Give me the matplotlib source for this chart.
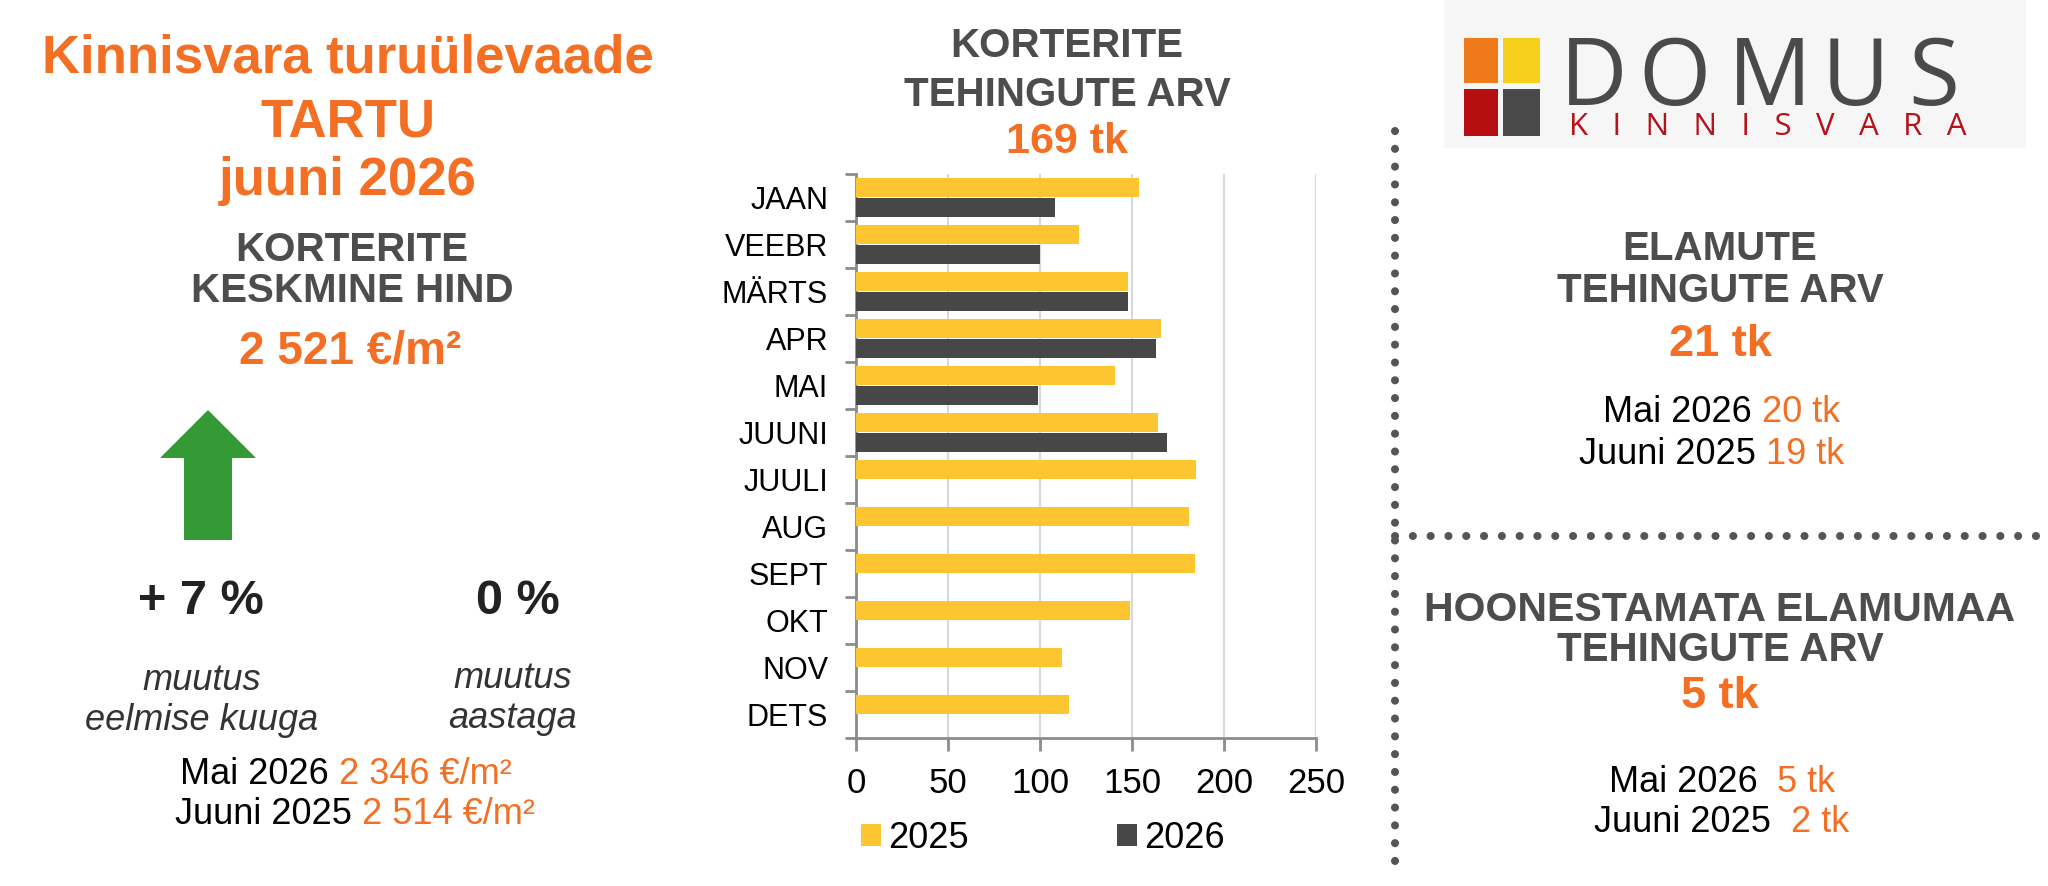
import matplotlib
matplotlib.use("Agg")
import matplotlib.pyplot as plt
from matplotlib.patches import FancyArrow, Rectangle
import numpy as np

plt.rcParams['font.family'] = ['Liberation Sans', 'DejaVu Sans']

# data
months = ['JAAN', 'VEEBR', 'MÄRTS', 'APR', 'MAI', 'JUUNI',
          'JUULI', 'AUG', 'SEPT', 'OKT', 'NOV', 'DETS']
deals_2025 = [154, 121, 148, 166, 141, 164, 185, 181, 184, 149, 112, 116]
deals_2026 = [108, 100, 148, 163, 99, 169]
years = ['2025', '2026']
x_ticks = [0, 50, 100, 150, 200, 250]

ORANGE = '#F26F23'
GRAY = '#4D4D4D'
YELLOW = '#FDC530'
DARK = '#474747'

W, H = 2048, 886
fig = plt.figure(figsize=(W / 100, H / 100), dpi=100)
bg = fig.add_axes([0, 0, 1, 1])
bg.set_xlim(0, W)
bg.set_ylim(H, 0)
bg.axis('off')


def txt(x, y, s, size, color='black', weight='normal', style='normal'):
    bg.text(x, y, s, fontsize=size, color=color, fontweight=weight,
            fontstyle=style, ha='center', va='center')


def mixed_line(x, y, parts, size):
    # several coloured pieces on one line, centred on x
    r = fig.canvas.get_renderer()
    gap = size * 100 / 72 * 0.278
    items = []
    for s, c in parts:
        t = bg.text(0, y, s, fontsize=size, color=c, ha='left', va='center')
        items.append((t, t.get_window_extent(r).width))
    total = sum(w for _, w in items) + gap * (len(items) - 1)
    left = x - total / 2
    for t, w in items:
        t.set_x(left)
        left += w + gap


# left panel
txt(348, 58, 'Kinnisvara turuülevaade', 38, ORANGE, 'bold')
txt(348, 122, 'TARTU', 38, ORANGE, 'bold')
txt(348, 181, 'juuni 2026', 38, ORANGE, 'bold')
txt(352, 250, 'KORTERITE', 29, GRAY, 'bold')
txt(352, 291, 'KESKMINE HIND', 29, GRAY, 'bold')
txt(350, 352, '2 521 €/m²', 33, ORANGE, 'bold')

bg.add_patch(FancyArrow(208, 540, 0, -130, width=48, head_width=96,
                        head_length=48, length_includes_head=True,
                        color='#339A35', lw=0))

txt(201, 602, '+ 7 %', 35, '#222222', 'bold')
txt(518, 602, '0 %', 35, '#222222', 'bold')
txt(202, 681, 'muutus', 26, '#333333', style='italic')
txt(202, 721, 'eelmise kuuga', 26, '#333333', style='italic')
txt(513, 678, 'muutus', 26, '#333333', style='italic')
txt(513, 718, 'aastaga', 26, '#333333', style='italic')
mixed_line(346, 775, [('Mai 2026', 'black'), ('2 346 €/m²', ORANGE)], 26)
mixed_line(355, 815, [('Juuni 2025', 'black'), ('2 514 €/m²', ORANGE)], 26)

# centre chart
txt(1067, 46, 'KORTERITE', 29, GRAY, 'bold')
txt(1067, 95, 'TEHINGUTE ARV', 29, GRAY, 'bold')
txt(1067, 142, '169 tk', 31, ORANGE, 'bold')

ax = fig.add_axes([856 / W, (H - 738) / H, 460 / W, 564 / H])
y = np.arange(len(months))
h = 0.41
b1 = ax.barh(y - 0.207, deals_2025, height=h, color=YELLOW, label=years[0], zorder=3)
b2 = ax.barh(y[:len(deals_2026)] + 0.207, deals_2026, height=h, color=DARK,
             label=years[1], zorder=3)
ax.set_xlim(0, 250)
ax.set_ylim(len(months) - 0.5, -0.5)
ax.set_xticks(x_ticks)
ax.set_xticklabels([str(v) for v in x_ticks], fontsize=25)
ax.set_yticks(np.arange(-0.5, len(months), 1))
ax.set_yticklabels([])
ax.set_yticks(y, minor=True)
ax.set_yticklabels(months, minor=True, fontsize=22)
ax.tick_params(axis='y', which='minor', length=0, pad=20)
ax.tick_params(axis='y', which='major', length=8, width=2, color='#8C8C8C')
ax.tick_params(axis='x', length=9, width=2, color='#8C8C8C', pad=12)
ax.grid(axis='x', color='#D9D9D9', lw=1.5, zorder=0)
for side in ['top', 'right']:
    ax.spines[side].set_visible(False)
for side in ['left', 'bottom']:
    ax.spines[side].set_color('#8C8C8C')
    ax.spines[side].set_linewidth(2)
ax.legend(handles=[b1, b2], ncol=2, loc='center left',
          bbox_to_anchor=(-0.028, -0.178), frameon=False, fontsize=26,
          handlelength=0.55, handleheight=0.55, handletextpad=0.2,
          columnspacing=4.1, borderpad=0)

bg.annotate('', xy=(1222, 444), xytext=(1270, 444),
            arrowprops=dict(arrowstyle='->', color=ORANGE, lw=2.5,
                            mutation_scale=32))

# separators
dots = dict(color='#555555', lw=5.8, linestyle=(0, (0.01, 2.2)),
            dash_capstyle='round')
bg.plot([1395, 1395], [131, 873], **dots)
bg.plot([1395, 2042], [536, 536], **dots)

# logo
bg.add_patch(Rectangle((1444, 0), 582, 148, color='#F6F6F6', lw=0))
bg.add_patch(Rectangle((1464, 38), 34, 45, color='#EE7A1B', lw=0))
bg.add_patch(Rectangle((1503, 38), 37, 45, color='#F6CE1C', lw=0))
bg.add_patch(Rectangle((1464, 89), 34, 47, color='#B50F12', lw=0))
bg.add_patch(Rectangle((1503, 89), 37, 47, color='#4A4A4A', lw=0))
for cx, ch in zip([1594, 1675, 1770, 1856, 1934], 'DOMUS'):
    bg.text(cx, 105, ch, fontsize=67, color='#4A4A4A', family='Open Sans',
            ha='center', va='baseline')
bg.text(1768, 135, '   '.join('KINNISVARA'), fontsize=22.5, color='#B5121B',
        family='Open Sans', ha='center', va='baseline')

# right panel
txt(1720, 249, 'ELAMUTE', 29, GRAY, 'bold')
txt(1720, 291, 'TEHINGUTE ARV', 29, GRAY, 'bold')
txt(1720, 345, '21 tk', 32.5, ORANGE, 'bold')
mixed_line(1722, 412, [('Mai 2026', 'black'), ('20 tk', ORANGE)], 26)
mixed_line(1712, 454, [('Juuni 2025', 'black'), ('19 tk', ORANGE)], 26)

txt(1720, 610, 'HOONESTAMATA ELAMUMAA', 29.5, GRAY, 'bold')
txt(1720, 650, 'TEHINGUTE ARV', 29, GRAY, 'bold')
txt(1720, 697, '5 tk', 32.5, ORANGE, 'bold')
mixed_line(1722, 782, [('Mai 2026 ', 'black'), ('5 tk', ORANGE)], 26)
mixed_line(1722, 822, [('Juuni 2025 ', 'black'), ('2 tk', ORANGE)], 26)

fig.savefig('out.png', dpi=100)
